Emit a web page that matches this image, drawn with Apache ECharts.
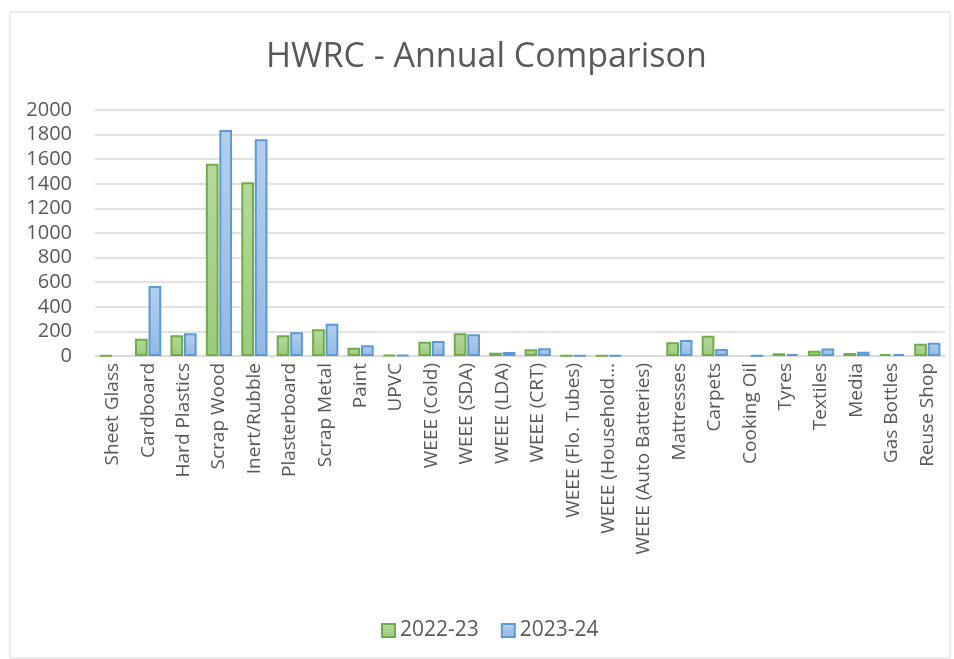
<!DOCTYPE html>
<html>
<head>
<meta charset="utf-8">
<script src="https://cdn.jsdelivr.net/npm/echarts@6/dist/echarts.min.js"></script>
<style>
  html, body { margin: 0; padding: 0; background: #fff; }
  #chart { width: 954px; height: 659px; }
</style>
</head>
<body>
<div id="chart"></div>
<script>
var categories = ["Sheet Glass", "Cardboard", "Hard Plastics", "Scrap Wood", "Inert/Rubble",
  "Plasterboard", "Scrap Metal", "Paint", "UPVC", "WEEE (Cold)", "WEEE (SDA)", "WEEE (LDA)",
  "WEEE (CRT)", "WEEE (Flo. Tubes)", "WEEE (Household Batteries)", "WEEE (Auto Batteries)",
  "Mattresses", "Carpets", "Cooking Oil", "Tyres", "Textiles", "Media", "Gas Bottles", "Reuse Shop"];
var y2022 = [5, 141, 168, 1563, 1412, 168, 217, 68, 8, 116, 184, 27, 54, 5, 5, 0, 111, 165, 0, 22, 43, 24, 16, 100];
var y2023 = [0, 569, 184, 1837, 1762, 193, 263, 87, 8, 122, 176, 33, 62, 5, 5, 0, 130, 57, 4, 16, 60, 35, 16, 108];
var yTicks = [0, 200, 400, 600, 800, 1000, 1200, 1400, 1600, 1800, 2000];

var font = "'Open Sans', 'Noto Sans', sans-serif";
var textGrey = "#595959";

var chart = echarts.init(document.getElementById("chart"));

// zero values draw no bar at all (no border line on the axis)
function noZero(arr) {
  return arr.map(function (v) { return v === 0 ? null : v; });
}

function barStyle(fillTop, fillBottom, border) {
  return {
    color: new echarts.graphic.LinearGradient(0, 0, 0, 1, [
      { offset: 0, color: fillTop },
      { offset: 1, color: fillBottom }
    ]),
    borderColor: border,
    borderWidth: 2
  };
}

var option = {
  animation: false,
  backgroundColor: "#fff",
  graphic: [{
    type: "rect",
    shape: { x: 10, y: 12, width: 940, height: 646 },
    style: { fill: "none", stroke: "#d9d9d9", lineWidth: 1 },
    silent: true
  }],
  title: {
    text: "HWRC - Annual Comparison",
    left: 261,
    top: 35,
    textStyle: {
      fontFamily: font,
      fontSize: 34,
      fontWeight: "normal",
      color: textGrey
    }
  },
  legend: {
    bottom: 13,
    left: 376,
    itemWidth: 13,
    itemHeight: 13,
    itemGap: 22,
    icon: "rect",
    textStyle: { fontFamily: font, fontSize: 21, color: textGrey },
    data: ["2022-23", "2023-24"]
  },
  grid: {
    left: 95,
    right: 9,
    top: 110,
    bottom: 303,
    containLabel: false
  },
  xAxis: {
    type: "category",
    data: categories,
    axisTick: { show: false },
    axisLine: { lineStyle: { color: "#d9d9d9", width: 1.5 } },
    axisLabel: {
      rotate: 90,
      interval: 0,
      margin: 7,
      fontFamily: font,
      fontSize: 19,
      color: textGrey,
      formatter: function (v) {
        return v.length > 21 ? v.slice(0, 15) + "\u2026" : v;
      }
    }
  },
  yAxis: {
    type: "value",
    min: yTicks[0],
    max: yTicks[yTicks.length - 1],
    interval: 200,
    axisLine: { show: false },
    axisTick: { show: false },
    splitLine: { lineStyle: { color: "#d9d9d9", width: 1.5 } },
    axisLabel: {
      margin: 23,
      fontFamily: font,
      fontSize: 20,
      color: textGrey,
      formatter: function (v) { return String(v); }
    }
  },
  series: [
    {
      name: "2022-23",
      type: "bar",
      data: noZero(y2022),
      barGap: "6%",
      barCategoryGap: "26%",
      itemStyle: barStyle("#b5d99c", "#9cc97e", "#70ad47")
    },
    {
      name: "2023-24",
      type: "bar",
      data: noZero(y2023),
      itemStyle: barStyle("#b4cfed", "#93b9e3", "#5b9bd5")
    }
  ]
};
chart.setOption(option);
</script>
</body>
</html>
